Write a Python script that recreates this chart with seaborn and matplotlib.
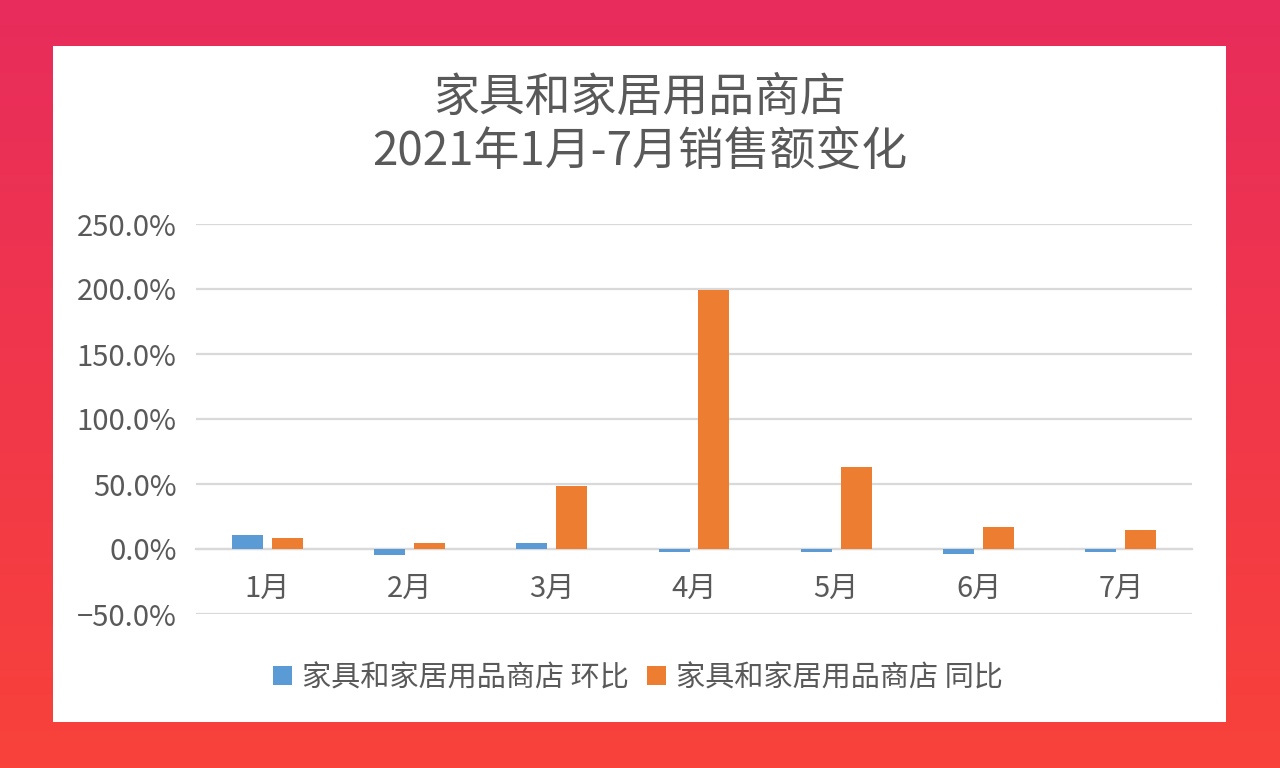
import numpy as np
import pandas as pd
import matplotlib
matplotlib.use("Agg")
import matplotlib.pyplot as plt
from matplotlib.patches import Rectangle
from matplotlib.colors import LinearSegmentedColormap
import seaborn as sns

# Data (percent)
months = ["1月", "2月", "3月", "4月", "5月", "6月", "7月"]
mom = [10.8, -4.5, 4.4, -2.0, -2.0, -3.5, -2.5]        # 环比
yoy = [8.3, 4.4, 48.5, 199.0, 63.3, 17.0, 14.4]        # 同比
series_names = ["家具和家居用品商店 环比", "家具和家居用品商店 同比"]
y_ticks = [-50, 0, 50, 100, 150, 200, 250]

df = pd.DataFrame({
    "月份": months * 2,
    "值": mom + yoy,
    "系列": [series_names[0]] * len(months) + [series_names[1]] * len(months),
})

sns.set_theme(style="white")
plt.rcParams["font.family"] = ["Noto Sans CJK SC", "DejaVu Sans"]
text_color = "#595959"
grid_color = "#d9d9d9"

fig = plt.figure(figsize=(12.8, 7.68), dpi=100)

# gradient background
bg = fig.add_axes([0, 0, 1, 1], zorder=-10)
grad = LinearSegmentedColormap.from_list("bg", ["#e82c5c", "#f8423a"])
bg.imshow(np.linspace(0, 1, 256).reshape(-1, 1), cmap=grad, aspect="auto",
          extent=[0, 1, 0, 1], origin="upper")
bg.set_axis_off()

# white panel
fig.patches.append(Rectangle((53 / 1280, 46 / 768), (1226 - 53) / 1280, (722 - 46) / 768,
                             transform=fig.transFigure, facecolor="white",
                             edgecolor="none", zorder=-5))

ax = fig.add_axes([196 / 1280, 154 / 768, 996 / 1280, 390 / 768])
ax.set_facecolor("none")
sns.barplot(data=df, x="月份", y="值", hue="系列",
            palette=["#5b9bd5", "#ed7d31"], saturation=1, width=0.56, gap=0.22,
            linewidth=0, ax=ax, zorder=3)

ax.set_xlim(-0.5, 6.5)
ax.set_ylim(-50, 250)
ax.set_yticks(y_ticks)
ax.set_yticklabels([f"{v:.1f}%".replace("-", "\u2212") for v in y_ticks])
ax.yaxis.grid(True, color=grid_color, linewidth=1.6, zorder=0)
ax.set_axisbelow(True)
for s in ["left", "right", "top"]:
    ax.spines[s].set_visible(False)
ax.spines["bottom"].set_position(("data", 0))
ax.spines["bottom"].set_color(grid_color)
ax.spines["bottom"].set_linewidth(1.6)
ax.tick_params(axis="y", length=0, pad=14, labelsize=21, labelcolor=text_color)
ax.tick_params(axis="x", length=0, pad=18, labelsize=21, labelcolor=text_color)
ax.set_xlabel("")
ax.set_ylabel("")

handles, labels = ax.get_legend_handles_labels()
ax.legend(handles, labels, loc="center", bbox_to_anchor=(638 / 1280, 1 - 678 / 768),
          bbox_transform=fig.transFigure, ncol=2, frameon=False,
          fontsize=21, labelcolor=text_color, handlelength=0.65, handleheight=0.65,
          handletextpad=0.35, columnspacing=0.6)

fig.text(0.5, 1 - 98 / 768, "家具和家居用品商店", ha="center", va="center",
         fontsize=33, color=text_color)
fig.text(0.5, 1 - 152 / 768, "2021年1月-7月销售额变化", ha="center", va="center",
         fontsize=33, color=text_color)

fig.savefig("out.png", dpi=100)
